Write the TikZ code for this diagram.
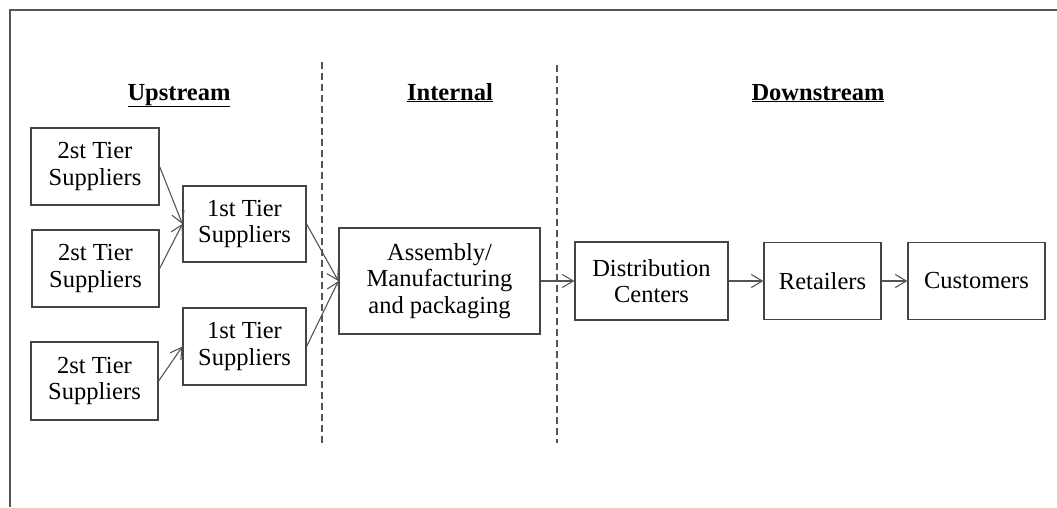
\documentclass[tikz,border=0pt]{standalone}
\usepackage{fontspec}
\setmainfont{Liberation Serif}
\usetikzlibrary{arrows.meta}
\definecolor{edge}{HTML}{444444}
\definecolor{wire}{HTML}{555555}
\tikzset{
  stage/.style={draw=edge, line width=1.2pt, inner sep=0pt, align=center,
    font=\fontsize{24.5}{26.7}\selectfont},
  heading/.style={anchor=base, inner sep=0pt,
    font=\fontsize{24.5}{26.7}\selectfont\bfseries},
  flow/.style={draw=wire, line width=1.1pt, -{Straight Barb[length=11pt,width=13pt,line width=1.1pt]}},
  divider/.style={draw=wire, line width=1.1pt, dash pattern=on 7pt off 4pt},
}
\begin{document}
\begin{tikzpicture}[x=1pt,y=-1pt]
  \useasboundingbox (0,0) rectangle (1057,507);
  % frame edges
  \draw[wire, line width=1.1pt] (10,507) -- (10,10) -- (1057,10);

  % section dividers
  \coordinate (d1t) at (322,62);
  \coordinate (d1b) at (322,443);
  \coordinate (d2t) at (557,65);
  \coordinate (d2b) at (557,443);
  \draw[divider] (d1t) -- (d1b);
  \draw[divider] (d2t) -- (d2b);

  % section headings
  \node[heading] (hup)   at (179,100) {\underline{Upstream}};
  \node[heading] (hin)   at (450,100) {\underline{Internal}};
  \node[heading] (hdown) at (818,100) {\underline{Downstream}};

  % upstream suppliers
  \node[stage, minimum width=128pt, minimum height=77pt] (s2a) at (95,166.5) {2st Tier\\Suppliers};
  \node[stage, minimum width=127pt, minimum height=77pt] (s2b) at (95.5,268.5) {2st Tier\\Suppliers};
  \node[stage, minimum width=127pt, minimum height=78pt] (s2c) at (94.5,381) {2st Tier\\Suppliers};
  \node[stage, minimum width=123pt, minimum height=76pt] (s1a) at (244.5,224) {1st Tier\\Suppliers};
  \node[stage, minimum width=123pt, minimum height=77pt] (s1b) at (244.5,346.5) {1st Tier\\Suppliers};

  % internal
  \node[stage, minimum width=201pt, minimum height=106pt] (asm) at (439.5,281) {Assembly/\\Manufacturing\\and packaging};

  % downstream
  \node[stage, minimum width=153pt, minimum height=78pt] (dc)   at (651.5,281) {Distribution\\Centers};
  \node[stage, minimum width=117pt, minimum height=77pt] (ret)  at (822.5,281) {Retailers};
  \node[stage, minimum width=137pt, minimum height=77pt] (cust) at (976.5,281) {Customers};

  % flows
  \draw[flow] (s2a.east) -- (s1a.west);
  \draw[flow] (s2b.east) -- (s1a.west);
  \draw[flow] (s2c.east) -- (s1b.west);
  \draw[flow] (s1a.east) -- (asm.west);
  \draw[flow] (s1b.east) -- (asm.west);
  \draw[flow] (asm.east) -- (dc.west);
  \draw[flow] (dc.east) -- (ret.west);
  \draw[flow] (ret.east) -- (cust.west);
\end{tikzpicture}
\end{document}
